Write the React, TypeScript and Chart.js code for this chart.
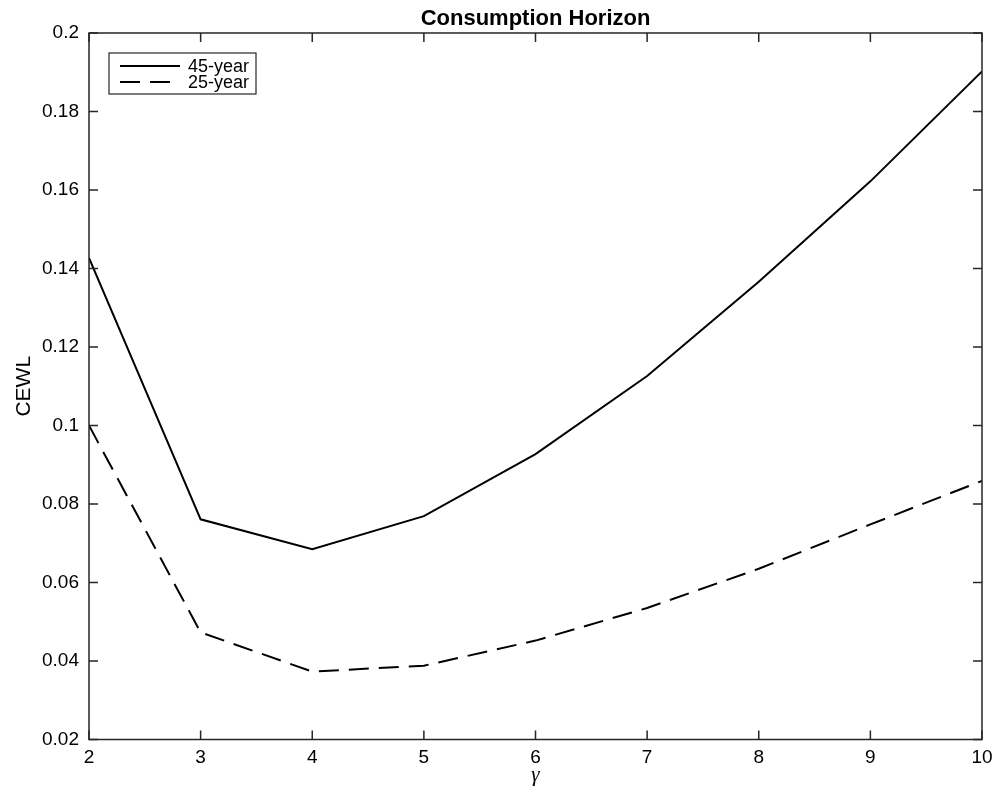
import React, { useEffect, useRef } from "react";
import { Chart, registerables } from "chart.js";

Chart.register(...registerables);

const gammas = [2, 3, 4, 5, 6, 7, 8, 9, 10];
const cewl45 = [0.1427, 0.0761, 0.0685, 0.0769, 0.0927, 0.1126, 0.1366, 0.1622, 0.1902];
const cewl25 = [0.1, 0.0473, 0.0373, 0.0388, 0.0452, 0.0535, 0.0635, 0.0748, 0.0859];
const seriesLabels = ["45-year", "25-year"];
const yTickValues = [0.02, 0.04, 0.06, 0.08, 0.1, 0.12, 0.14, 0.16, 0.18, 0.2];
const yTickLabels = ["0.02", "0.04", "0.06", "0.08", "0.1", "0.12", "0.14", "0.16", "0.18", "0.2"];
const xTickValues = [2, 3, 4, 5, 6, 7, 8, 9, 10];
const xTickLabels = ["2", "3", "4", "5", "6", "7", "8", "9", "10"];
const chartTitle = "Consumption Horizon";

const FONT = "'Liberation Sans', Arial, Helvetica, sans-serif";
const AXIS_COLOR = "#262626";

const boxPlugin = {
  id: "matlabBox",
  afterDraw(chart: any) {
    const ctx = chart.ctx;
    const { left, right, top, bottom } = chart.chartArea;
    const xs = chart.scales.x;
    const ys = chart.scales.y;
    const tl = 9;
    ctx.save();
    ctx.strokeStyle = AXIS_COLOR;
    ctx.lineWidth = 1.5;
    ctx.strokeRect(left, top, right - left, bottom - top);
    ctx.beginPath();
    xs.ticks.forEach((t: any) => {
      const px = xs.getPixelForValue(t.value);
      ctx.moveTo(px, bottom);
      ctx.lineTo(px, bottom - tl);
      ctx.moveTo(px, top);
      ctx.lineTo(px, top + tl);
    });
    ys.ticks.forEach((t: any) => {
      const py = ys.getPixelForValue(t.value);
      ctx.moveTo(left, py);
      ctx.lineTo(left + tl, py);
      ctx.moveTo(right, py);
      ctx.lineTo(right - tl, py);
    });
    ctx.stroke();

    // title centred on the plot area
    ctx.fillStyle = "#000000";
    ctx.font = `bold 22px ${FONT}`;
    ctx.textAlign = "center";
    ctx.textBaseline = "alphabetic";
    ctx.fillText(chartTitle, (left + right) / 2, 24.5);

    // legend
    const lx = 109, ly = 53, lw = 147, lh = 41;
    ctx.fillStyle = "#ffffff";
    ctx.fillRect(lx, ly, lw, lh);
    ctx.lineWidth = 1.2;
    ctx.strokeStyle = AXIS_COLOR;
    ctx.strokeRect(lx, ly, lw, lh);
    ctx.font = `18px ${FONT}`;
    ctx.textBaseline = "middle";
    ctx.textAlign = "left";
    chart.data.datasets.forEach((ds: any, i: number) => {
      const y = ly + 13 + i * 16;
      ctx.beginPath();
      ctx.strokeStyle = ds.borderColor;
      ctx.lineWidth = ds.borderWidth;
      ctx.setLineDash(ds.borderDash || []);
      ctx.moveTo(lx + 11, y);
      ctx.lineTo(lx + 71, y);
      ctx.stroke();
      ctx.setLineDash([]);
      ctx.fillStyle = "#000000";
      ctx.fillText(ds.label, lx + 79, y + 1);
    });
    ctx.restore();
  },
};

export default function App() {
  const ref = useRef<HTMLCanvasElement | null>(null);
  useEffect(() => {
    if (!ref.current) return;
    const chart = new Chart(ref.current, {
      type: "line",
      data: {
        datasets: [
          {
            label: seriesLabels[0],
            data: gammas.map((g, i) => ({ x: g, y: cewl45[i] })),
            borderColor: "#000000",
            borderWidth: 2,
            pointRadius: 0,
            fill: false,
            tension: 0,
          },
          {
            label: seriesLabels[1],
            data: gammas.map((g, i) => ({ x: g, y: cewl25[i] })),
            borderColor: "#000000",
            borderWidth: 2,
            borderDash: [20, 10],
            pointRadius: 0,
            fill: false,
            tension: 0,
          },
        ],
      },
      options: {
        responsive: false,
        animation: false,
        devicePixelRatio: 1,
        layout: { padding: { left: 0, right: 23, top: 33, bottom: 0 } },
        plugins: {
          legend: { display: false },
          tooltip: { enabled: false },
          title: { display: false },
        },
        scales: {
          x: {
            type: "linear",
            min: 2,
            max: 10,
            afterFit: (s: any) => {
              s.height = 49.5;
            },
            afterBuildTicks: (s: any) => {
              s.ticks = xTickValues.map((v) => ({ value: v }));
            },
            ticks: {
              color: "#000000",
              padding: 7,
              maxRotation: 0,
              autoSkip: false,
              font: { family: FONT, size: 19 },
              callback: (v: any) => {
                const i = xTickValues.indexOf(Number(v));
                return i >= 0 ? xTickLabels[i] : "";
              },
            },
            grid: { display: false, drawTicks: false, tickLength: 0 },
            border: { display: false },
            title: {
              display: true,
              text: "γ",
              color: "#000000",
              font: { family: "'Liberation Serif', 'DejaVu Serif', serif", size: 21, style: "italic", lineHeight: 1.2 },
              padding: { top: 0, bottom: 1 },
            },
          },
          y: {
            type: "linear",
            min: 0.02,
            max: 0.2,
            afterFit: (s: any) => {
              s.width = 89;
            },
            afterBuildTicks: (s: any) => {
              s.ticks = yTickValues.map((v) => ({ value: v }));
            },
            ticks: {
              color: "#000000",
              padding: 10,
              autoSkip: false,
              font: { family: FONT, size: 19 },
              callback: (v: any) => {
                const i = yTickValues.findIndex((t) => Math.abs(t - Number(v)) < 1e-9);
                return i >= 0 ? yTickLabels[i] : "";
              },
            },
            grid: { display: false, drawTicks: false, tickLength: 0 },
            border: { display: false },
            title: {
              display: true,
              text: "CEWL",
              color: "#000000",
              font: { family: FONT, size: 21, lineHeight: 1.2 },
              padding: { top: 12, bottom: 0 },
            },
          },
        },
      },
      plugins: [boxPlugin],
    });
    return () => chart.destroy();
  }, []);
  return (
    <div style={{ position: "absolute", left: 0, top: 0, width: 1005, height: 789, background: "#ffffff" }}>
      <canvas ref={ref} width={1005} height={789} style={{ display: "block" }} />
    </div>
  );
}
